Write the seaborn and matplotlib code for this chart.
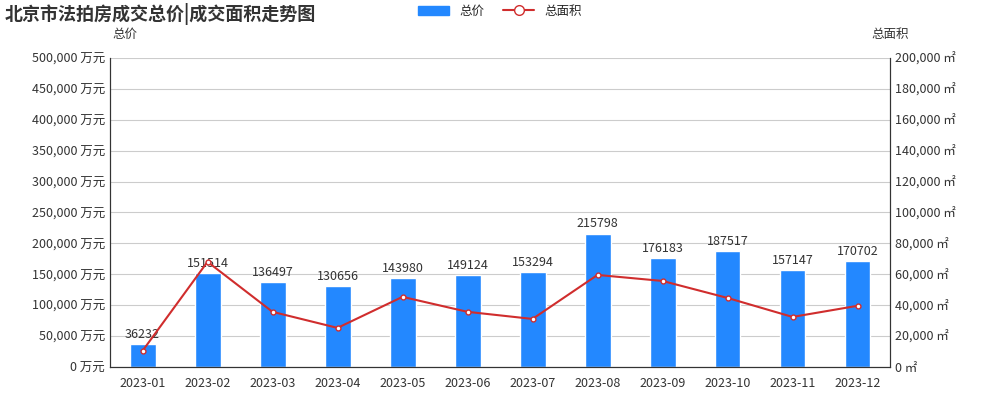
import numpy as np
import pandas as pd
import seaborn as sns
import matplotlib.pyplot as plt
from matplotlib.ticker import FuncFormatter
from matplotlib.lines import Line2D
from matplotlib.patches import Patch

months = ["2023-01", "2023-02", "2023-03", "2023-04", "2023-05", "2023-06",
          "2023-07", "2023-08", "2023-09", "2023-10", "2023-11", "2023-12"]
total_price = [36232, 151514, 136497, 130656, 143980, 149124,
               153294, 215798, 176183, 187517, 157147, 170702]
total_area = [10300, 68000, 35600, 25200, 45300, 35600,
              31000, 59500, 55600, 44600, 32300, 39500]

sns.set_style("white")
plt.rcParams['font.family'] = ['Noto Sans CJK SC', 'DejaVu Sans']

df = pd.DataFrame({"月份": months, "总价": total_price, "总面积": total_area})

fig = plt.figure(figsize=(10, 4), dpi=100)
ax = fig.add_axes([0.11, 0.083, 0.78, 0.772])
sns.barplot(data=df, x="月份", y="总价", color="#2388ff", saturation=1, width=0.4, ax=ax, zorder=2)
ax.set_ylim(0, 500000)
ax.set_yticks(np.arange(0, 500001, 50000))
ax.yaxis.set_major_formatter(FuncFormatter(lambda v, p: f"{int(v):,} 万元"))
ax.grid(axis="y", color="#cccccc", linewidth=0.8, zorder=0)
ax.set_xlabel("")
ax.set_ylabel("")
for i, v in enumerate(total_price):
    ax.text(i, v + 5000, str(v), ha="center", va="bottom", fontsize=9, color="#333333")

ax2 = ax.twinx()
ax2.plot(range(len(months)), total_area, color="#d02d2d", lw=1.5, marker="o",
         markersize=3.5, markerfacecolor="white", markeredgecolor="#d02d2d", zorder=3)
ax2.set_ylim(0, 200000)
ax2.set_yticks(np.arange(0, 200001, 20000))
ax2.yaxis.set_major_formatter(FuncFormatter(lambda v, p: f"{int(v):,} ㎡"))
ax.set_xlim(-0.5, len(months) - 0.5)

for a in (ax, ax2):
    a.tick_params(labelsize=9, colors="#333333", length=4)
    a.spines["top"].set_visible(False)
    a.spines["left"].set_color("#333333")
    a.spines["right"].set_color("#333333")
    a.spines["bottom"].set_color("#333333")
ax.tick_params(axis="y", length=0)
ax2.tick_params(axis="y", length=0)

fig.text(0.005, 0.965, "北京市法拍房成交总价|成交面积走势图", fontsize=13, fontweight="bold", color="#333333", va="center")
fig.text(0.125, 0.905, "总价", fontsize=9, color="#333333", ha="center")
fig.text(0.89, 0.905, "总面积", fontsize=9, color="#333333", ha="center")

handles = [Patch(color="#2388ff"),
           Line2D([0], [0], color="#d02d2d", marker="o", markerfacecolor="white", markersize=7)]
fig.legend(handles, ["总价", "总面积"], loc="center", bbox_to_anchor=(0.5, 0.972), ncol=2,
           frameon=False, fontsize=9, handlelength=2.5, columnspacing=1.5)

fig.savefig("out.png", dpi=100)
